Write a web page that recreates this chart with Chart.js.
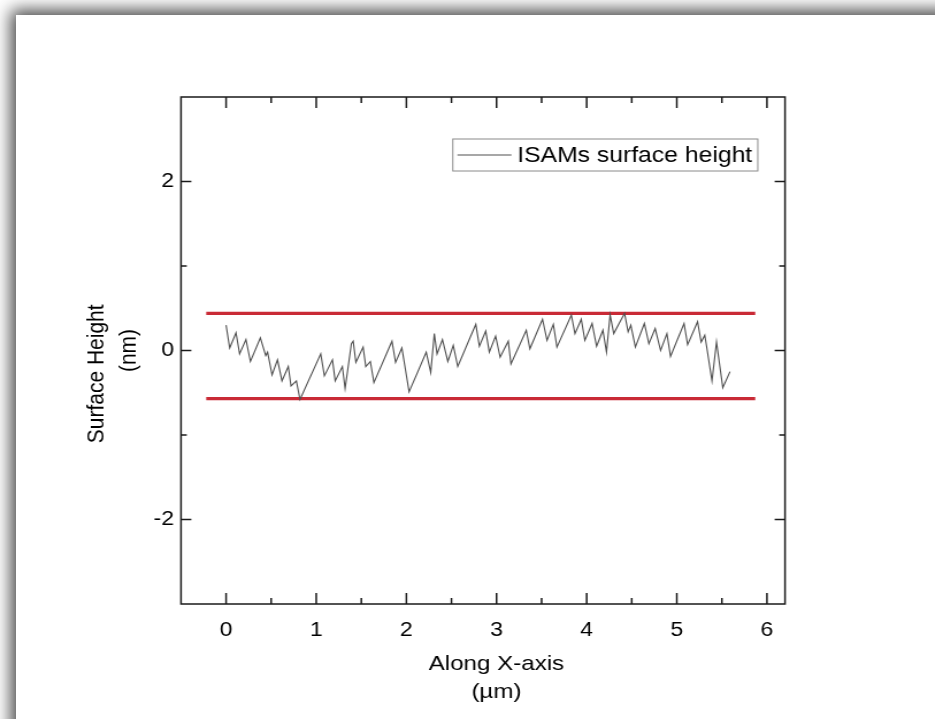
<!DOCTYPE html>
<html>
<head>
<meta charset="utf-8">
<script src="https://cdn.jsdelivr.net/npm/chart.js@4/dist/chart.umd.min.js"></script>
<style>
  html, body { margin: 0; padding: 0; background: #ffffff; width: 935px; height: 719px; overflow: hidden; }
  #panel { position: absolute; left: 16px; top: 15px; width: 1100px; height: 900px; background: #fff;
           box-shadow: 0 0 16px 5px rgba(0,0,0,0.72); }
  #wrap { position: absolute; left: 0; top: 0; width: 813px; height: 719px; transform: scaleX(1.15); transform-origin: 0 0; }
</style>
</head>
<body>
<div id="panel"></div>
<div id="wrap"><canvas id="c" width="813" height="719"></canvas></div>
<script>
// ---- data ----
const profileX = [0, 0.04, 0.11, 0.15, 0.22, 0.27, 0.38, 0.44, 0.46, 0.51, 0.57, 0.62, 0.69, 0.72, 0.78, 0.82,
  1.05, 1.09, 1.18, 1.21, 1.29, 1.32, 1.39, 1.41, 1.44, 1.52, 1.55, 1.60, 1.64, 1.84, 1.88, 1.95, 2.03,
  2.22, 2.27, 2.31, 2.34, 2.40, 2.46, 2.52, 2.57, 2.77, 2.81, 2.88, 2.92, 2.99, 3.04, 3.13, 3.16, 3.33, 3.37,
  3.51, 3.56, 3.63, 3.67, 3.83, 3.87, 3.94, 3.98, 4.06, 4.11, 4.18, 4.22, 4.26, 4.30, 4.42, 4.46, 4.49, 4.54,
  4.64, 4.69, 4.76, 4.82, 4.89, 4.93, 5.08, 5.12, 5.23, 5.27, 5.31, 5.33, 5.39, 5.44, 5.51, 5.59];
const profileY = [0.30, 0.03, 0.21, -0.04, 0.13, -0.13, 0.15, -0.06, -0.02, -0.29, -0.11, -0.36, -0.19, -0.42, -0.36, -0.58,
  -0.04, -0.30, -0.11, -0.36, -0.19, -0.45, 0.08, 0.11, -0.14, 0.04, -0.19, -0.13, -0.38, 0.11, -0.14, 0.03, -0.49,
  -0.02, -0.26, 0.20, -0.04, 0.13, -0.13, 0.06, -0.19, 0.31, 0.05, 0.23, -0.02, 0.17, -0.08, 0.11, -0.16, 0.24, 0.02,
  0.37, 0.12, 0.31, 0.04, 0.42, 0.20, 0.37, 0.12, 0.32, 0.05, 0.24, -0.02, 0.42, 0.20, 0.44, 0.22, 0.30, 0.04,
  0.32, 0.08, 0.26, 0.00, 0.20, -0.07, 0.32, 0.07, 0.34, 0.10, 0.18, 0.05, -0.36, 0.10, -0.44, -0.25];
const limitX = [-0.22, 5.87];
const upperLimit = [0.44, 0.44];
const lowerLimit = [-0.57, -0.57];
const xMajorTicks = [0, 1, 2, 3, 4, 5, 6];
const xMinorTicks = [0.5, 1.5, 2.5, 3.5, 4.5, 5.5];
const yMajorTicks = [-2, 0, 2];
const yMinorTicks = [-1, 1];
const seriesName = 'ISAMs surface height';
const xTitle = ['    Along X-axis', '    (\u00b5m)'];
const yTitle = ['Surface Height        ', '(nm)'];

const toPts = (xs, ys) => xs.map((x, i) => ({x: x, y: ys[i]}));
const FONT = '"Liberation Sans", Arial, sans-serif';

const framePlugin = {
  id: 'frameTicks',
  afterDraw(chart) {
    const ctx = chart.ctx;
    const a = chart.chartArea;
    const sx = chart.scales.x, sy = chart.scales.y;
    ctx.save();
    ctx.strokeStyle = '#1a1a1a';
    ctx.lineWidth = 1.5;
    ctx.strokeRect(a.left, a.top, a.right - a.left, a.bottom - a.top);
    ctx.beginPath();
    const vt = (v, len) => {
      const p = sx.getPixelForValue(v);
      ctx.moveTo(p, a.bottom); ctx.lineTo(p, a.bottom - len);
      ctx.moveTo(p, a.top); ctx.lineTo(p, a.top + len);
    };
    const ht = (v, len) => {
      const p = sy.getPixelForValue(v);
      ctx.moveTo(a.left, p); ctx.lineTo(a.left + len, p);
      ctx.moveTo(a.right, p); ctx.lineTo(a.right - len, p);
    };
    xMajorTicks.forEach(v => vt(v, 11));
    xMinorTicks.forEach(v => vt(v, 6));
    yMajorTicks.forEach(v => ht(v, 9));
    yMinorTicks.forEach(v => ht(v, 5));
    ctx.stroke();

    // legend box inside the plot
    const w = a.right - a.left;
    const bx = a.left + w * 0.45, by = a.top + 42, bw = w * 0.505, bh = 32;
    ctx.lineWidth = 1;
    ctx.strokeStyle = '#8a8a8a';
    ctx.strokeRect(bx, by, bw, bh);
    const ds = chart.data.datasets[0];
    ctx.strokeStyle = ds.borderColor;
    ctx.lineWidth = ds.borderWidth;
    ctx.beginPath();
    ctx.moveTo(bx + 4, by + bh / 2); ctx.lineTo(bx + 51, by + bh / 2);
    ctx.stroke();
    ctx.fillStyle = '#000';
    ctx.font = '21.5px ' + FONT;
    ctx.textBaseline = 'middle';
    ctx.textAlign = 'left';
    ctx.fillText(ds.label, bx + 56, by + bh / 2 + 1);
    ctx.restore();
  }
};

new Chart(document.getElementById('c'), {
  type: 'line',
  data: {
    datasets: [
      { label: seriesName, data: toPts(profileX, profileY), borderColor: '#505050', borderWidth: 1.1,
        pointRadius: 0, tension: 0, fill: false },
      { label: 'upper', data: toPts(limitX, upperLimit), borderColor: '#c92a36', borderWidth: 3.2,
        pointRadius: 0, fill: false },
      { label: 'lower', data: toPts(limitX, lowerLimit), borderColor: '#c92a36', borderWidth: 3.2,
        pointRadius: 0, fill: false }
    ]
  },
  options: {
    responsive: false,
    animation: false,
    devicePixelRatio: 1,
    layout: { padding: { left: 40, right: 130.4, top: 97, bottom: 10 } },
    plugins: { legend: { display: false }, tooltip: { enabled: false } },
    scales: {
      x: {
        type: 'linear', min: -0.5, max: 6.2,
        grid: { display: false, drawTicks: false },
        border: { display: false },
        afterBuildTicks: s => { s.ticks = xMajorTicks.map(v => ({value: v})); },
        afterFit: s => { s.height = 105; },
        ticks: { padding: 14, color: '#000', font: { family: FONT, size: 20 },
                 callback: v => String(v) },
        title: { display: true, text: xTitle, color: '#000', padding: { top: 0, bottom: 3 },
                 font: { family: FONT, size: 21, lineHeight: 1.33 } }
      },
      y: {
        type: 'linear', min: -3, max: 3,
        grid: { display: false, drawTicks: false },
        border: { display: false },
        afterBuildTicks: s => { s.ticks = yMajorTicks.map(v => ({value: v})); },
        afterFit: s => { s.width = 117.4; },
        ticks: { padding: 6, color: '#000', font: { family: FONT, size: 20 },
                 callback: v => String(v) },
        title: { display: true, text: yTitle, color: '#000', padding: { top: 30, bottom: 0 },
                 font: { family: FONT, size: 21, lineHeight: 1.33 } }
      }
    }
  },
  plugins: [framePlugin]
});
</script>
</body>
</html>
